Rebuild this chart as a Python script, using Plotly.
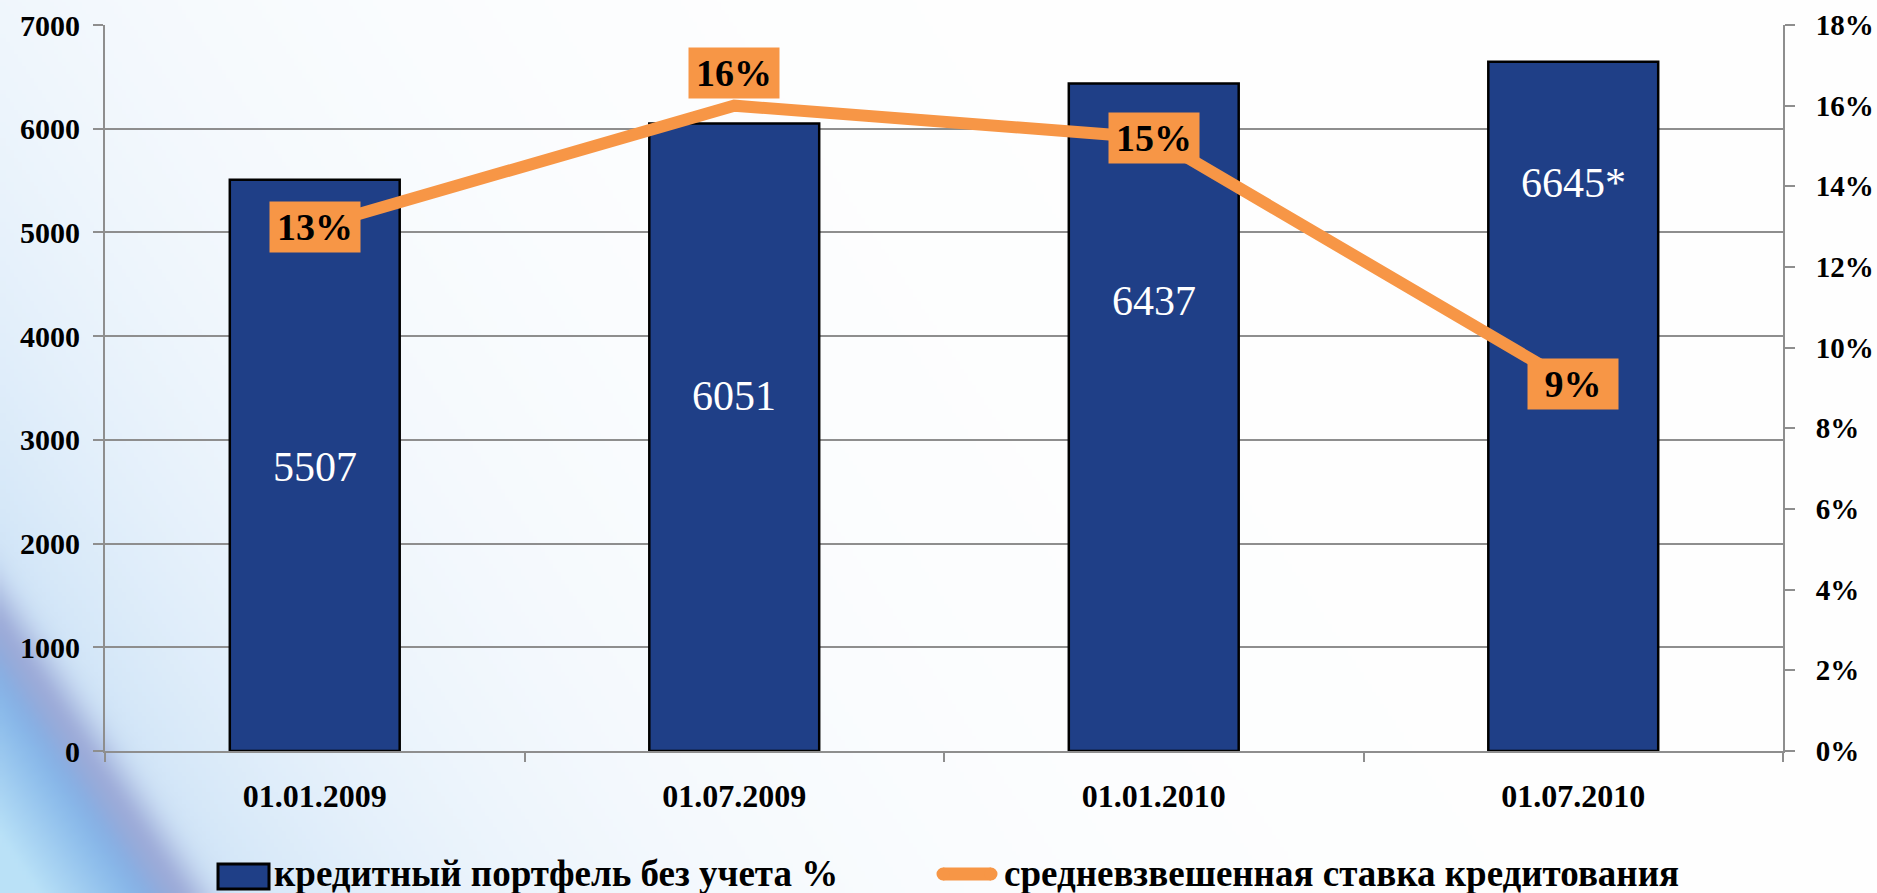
import base64
import struct
import zlib

import numpy as np
import plotly.graph_objects as go

# ---------------- data ----------------
categories = ["01.01.2009", "01.07.2009", "01.01.2010", "01.07.2010"]
portfolio = [5507, 6051, 6437, 6645]
portfolio_labels = ["5507", "6051", "6437", "6645*"]
rate = [0.13, 0.16, 0.152, 0.091]
rate_labels = ["13%", "16%", "15%", "9%"]
left_ticks = [0, 1000, 2000, 3000, 4000, 5000, 6000, 7000]
right_ticks = [0, 0.02, 0.04, 0.06, 0.08, 0.10, 0.12, 0.14, 0.16, 0.18]
series_names = ["кредитный портфель без учета %", "средневзвешенная ставка кредитования"]

# label placement (styling, not data)
bar_label_pos = [2738, 3423, 4339, 5477]
rate_label_shift = [0, 33, 0, 0]

W, H = 1877, 893
L, R, T, B = 105, 94, 25, 142
PW, PH = W - L - R, H - T - B
BAR_COLOR = "#1F3F87"
LINE_COLOR = "#F79646"
GRID = "#8E8E8E"
FONT = "Liberation Serif"


def px_x(px):
    return (px - L) / PW


def px_y(py):
    return (H - B - py) / PH


# ---------------- background image (decorative gradient) ----------------
def make_bg(w, h, scale):
    ys, xs = np.mgrid[0:h, 0:w].astype(float)
    X = xs * scale
    Y = ys * scale
    p0 = np.array([0.0, 640.0])
    d = np.array([1.0, 1.5])
    d = d / np.linalg.norm(d)
    n = np.array([d[1], -d[0]])
    rx, ry = X - p0[0], Y - p0[1]
    s = rx * n[0] + ry * n[1]
    white = np.array([255, 255, 255], float)
    haze = np.array([196, 222, 246], float)
    blue = np.array([112, 165, 228], float)
    cyan = np.array([186, 226, 248], float)
    purple = np.array([150, 156, 206], float)
    a = 0.9 * np.exp(-np.clip(s, 0, None) / 280.0)
    above = white * (1 - a[..., None]) + haze * a[..., None]
    t = np.clip(-s / 110.0, 0, 1)[..., None]
    below = blue * (1 - t) + cyan * t
    wgt = 1 / (1 + np.exp(s / 10.0))
    col = below * wgt[..., None] + above * (1 - wgt[..., None])
    g = 0.65 * np.exp(-((s - 6) ** 2) / (2 * 18.0 ** 2))
    col = col * (1 - g[..., None]) + purple * g[..., None]
    return np.clip(col, 0, 255).astype(np.uint8)


def png_data_uri(arr):
    h, w, _ = arr.shape
    raw = b"".join(b"\x00" + arr[i].tobytes() for i in range(h))

    def chunk(tag, data):
        c = struct.pack(">I", len(data)) + tag + data
        return c + struct.pack(">I", zlib.crc32(tag + data) & 0xFFFFFFFF)

    png = b"\x89PNG\r\n\x1a\n"
    png += chunk(b"IHDR", struct.pack(">IIBBBBB", w, h, 8, 2, 0, 0, 0))
    png += chunk(b"IDAT", zlib.compress(raw, 9))
    png += chunk(b"IEND", b"")
    return "data:image/png;base64," + base64.b64encode(png).decode()


SC = 4
bg = make_bg(W // SC + 1, H // SC + 1, SC)
bg_uri = png_data_uri(bg)

# ---------------- figure ----------------
fig = go.Figure()

fig.add_trace(go.Bar(
    x=categories, y=portfolio, name=series_names[0],
    marker=dict(color=BAR_COLOR, line=dict(color="black", width=2.5)),
    width=0.405, yaxis="y", showlegend=False, hoverinfo="skip",
))

fig.add_trace(go.Scatter(
    x=categories, y=rate, name=series_names[1], mode="lines",
    line=dict(color=LINE_COLOR, width=12), yaxis="y2", showlegend=False, hoverinfo="skip",
))

annotations = []
for c, v, lab in zip(categories, bar_label_pos, portfolio_labels):
    annotations.append(dict(
        x=c, y=v, xref="x", yref="y", text=lab, showarrow=False,
        font=dict(family=FONT, size=42, color="white"),
    ))
for c, v, lab, sh in zip(categories, rate, rate_labels, rate_label_shift):
    annotations.append(dict(
        x=c, y=v, xref="x", yref="y2", text="<b>" + lab + "</b>", showarrow=False, yshift=sh,
        font=dict(family=FONT, size=38, color="black"),
        bgcolor=LINE_COLOR, borderpad=4, width=82,
    ))

# custom legend (text as real text)
LEG_Y = 873
annotations.append(dict(
    x=px_x(272), y=px_y(LEG_Y), xref="paper", yref="paper", xanchor="left", yanchor="middle",
    text="<b>" + series_names[0] + "</b>", showarrow=False,
    font=dict(family=FONT, size=37, color="black"),
))
annotations.append(dict(
    x=px_x(1002), y=px_y(LEG_Y), xref="paper", yref="paper", xanchor="left", yanchor="middle",
    text="<b>" + series_names[1] + "</b>", showarrow=False,
    font=dict(family=FONT, size=37, color="black"),
))
shapes = [
    dict(type="rect", xref="paper", yref="paper",
         x0=px_x(218), x1=px_x(269), y0=px_y(889), y1=px_y(864),
         fillcolor=BAR_COLOR, line=dict(color="black", width=3), layer="above"),
    dict(type="line", xref="paper", yref="paper",
         x0=px_x(943), x1=px_x(991), y0=px_y(874), y1=px_y(874),
         line=dict(color=LINE_COLOR, width=13), layer="above"),
]
for cx in (943, 991):
    shapes.append(dict(type="circle", xref="paper", yref="paper",
                       xsizemode="pixel", ysizemode="pixel",
                       xanchor=px_x(cx), yanchor=px_y(874),
                       x0=-6.5, x1=6.5, y0=-6.5, y1=6.5,
                       fillcolor=LINE_COLOR, line=dict(width=0), layer="above"))

tickfont_x = dict(family=FONT, size=32, color="black", weight="bold")
tickfont_y = dict(family=FONT, size=30, color="black", weight="bold")
tickfont_y2 = dict(family=FONT, size=29, color="black", weight="bold")

fig.update_layout(
    template="none",
    width=W, height=H,
    margin=dict(l=L, r=R, t=T, b=B, autoexpand=False),
    font=dict(family=FONT),
    paper_bgcolor="white",
    plot_bgcolor="rgba(0,0,0,0)",
    images=[dict(source=bg_uri, xref="paper", yref="paper",
                 x=-L / PW, y=1 + T / PH,
                 sizex=W / PW, sizey=H / PH,
                 xanchor="left", yanchor="top", sizing="stretch",
                 layer="below")],
    xaxis=dict(
        type="category", showline=True, linecolor=GRID, linewidth=2,
        ticks="outside", tickson="boundaries", ticklen=9, tickcolor=GRID, tickwidth=1.5,
        tickfont=tickfont_x, ticklabelstandoff=16, showgrid=False, automargin=False,
        zeroline=False,
    ),
    yaxis=dict(
        range=[0, 7000], tickvals=left_ticks, showgrid=True, gridcolor=GRID, gridwidth=2,
        showline=True, linecolor=GRID, linewidth=2, zeroline=False,
        ticks="outside", ticklen=10, tickcolor=GRID, tickwidth=2,
        tickfont=tickfont_y, ticklabelstandoff=7, automargin=False,
    ),
    yaxis2=dict(
        range=[0, 0.18], tickvals=right_ticks, tickformat=".0%", overlaying="y", side="right",
        showgrid=False, showline=True, linecolor=GRID, linewidth=2, zeroline=False,
        ticks="outside", ticklen=10, tickcolor=GRID, tickwidth=2,
        tickfont=tickfont_y2, ticklabelstandoff=15, automargin=False,
    ),
    annotations=annotations,
    shapes=shapes,
    showlegend=False,
)

fig.write_html("out.html", config={"displayModeBar": False},
               post_script="document.body.style.margin='0px';")
